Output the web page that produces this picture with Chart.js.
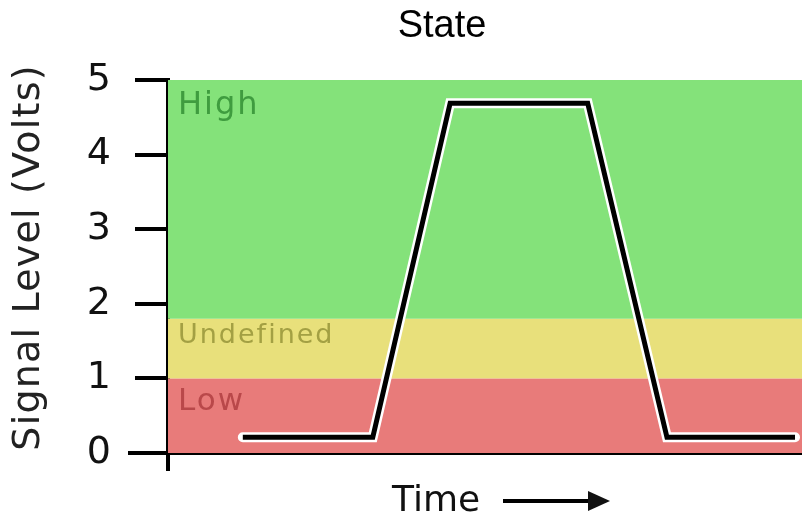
<!DOCTYPE html>
<html>
<head>
<meta charset="utf-8">
<script src="https://cdn.jsdelivr.net/npm/chart.js@4/dist/chart.umd.min.js"></script>
<style>
  html, body { margin: 0; padding: 0; background: #ffffff; }
  #wrap { width: 802px; height: 517px; }
</style>
</head>
<body>
<div id="wrap"><canvas id="c" width="802" height="517"></canvas></div>
<script>
// ---- data ----
const timePoints  = [11.8, 32.3, 44.5, 66.2, 78.7, 98.9];
const signalVolts = [0.21, 0.21, 4.69, 4.69, 0.21, 0.21];
const yTickValues = [0, 1, 2, 3, 4, 5];
const bandNames   = ['Low', 'Undefined', 'High'];
const bandFrom    = [0, 1, 1.8];
const bandTo      = [1, 1.8, 5];

// ---- styles ----
const bandFill    = ['#e87b7a', '#e8e07b', '#84e27a'];
const bandInk     = ['#b9484a', '#a3a043', '#3f9c3f'];
const bandFont    = [31, 27, 32];
const bandLabelDy = [32, 24, 34];

const points = timePoints.map((t, i) => ({ x: t, y: signalVolts[i] }));

const bandsPlugin = {
  id: 'bands',
  beforeDatasetsDraw(chart) {
    const { ctx, chartArea, scales: { y } } = chart;
    ctx.save();
    bandNames.forEach((name, i) => {
      const top = y.getPixelForValue(bandTo[i]);
      const bot = y.getPixelForValue(bandFrom[i]);
      ctx.fillStyle = bandFill[i];
      ctx.fillRect(chartArea.left, top, chartArea.right - chartArea.left, bot - top);
    });
    ctx.textAlign = 'left';
    ctx.textBaseline = 'alphabetic';
    try { ctx.letterSpacing = '2px'; } catch (e) {}
    bandNames.forEach((name, i) => {
      const top = y.getPixelForValue(bandTo[i]);
      ctx.font = bandFont[i] + 'px "DejaVu Sans"';
      ctx.fillStyle = bandInk[i];
      ctx.fillText(name, chartArea.left + 10, top + bandLabelDy[i]);
    });
    ctx.restore();
  }
};

const decoPlugin = {
  id: 'deco',
  afterLayout(chart) {
    if (chart.titleBlock) {
      chart.titleBlock.left = 82;
      chart.titleBlock.right = 802;
    }
    const ys = chart.scales.y;
    if (ys && !ys._spacedTitle) {
      const orig = ys.drawTitle.bind(ys);
      ys.drawTitle = function () {
        const ctx = this.ctx;
        ctx.save();
        try { ctx.letterSpacing = '1.2px'; } catch (e) {}
        ctx.translate(0, -9);
        orig();
        ctx.restore();
      };
      ys._spacedTitle = true;
    }
  },
  afterDraw(chart) {
    const { ctx, chartArea } = chart;
    ctx.save();
    ctx.strokeStyle = '#000';
    ctx.lineWidth = 4;
    ctx.beginPath();
    ctx.moveTo(chartArea.left, chartArea.bottom);
    ctx.lineTo(chartArea.left, chartArea.bottom + 18);
    ctx.moveTo(chartArea.left - 40, chartArea.bottom);
    ctx.lineTo(chartArea.left, chartArea.bottom);
    ctx.stroke();
    // x axis label with arrow
    ctx.fillStyle = '#111';
    ctx.font = '36px "DejaVu Sans"';
    ctx.textAlign = 'left';
    ctx.textBaseline = 'alphabetic';
    ctx.fillText('Time', 392, 511);
    ctx.beginPath();
    ctx.lineWidth = 4;
    ctx.moveTo(503, 501);
    ctx.lineTo(592, 501);
    ctx.stroke();
    ctx.beginPath();
    ctx.moveTo(588, 491);
    ctx.lineTo(610, 501);
    ctx.lineTo(588, 511);
    ctx.closePath();
    ctx.fill();
    ctx.restore();
  }
};

new Chart(document.getElementById('c'), {
  type: 'line',
  data: {
    datasets: [
      {
        data: points,
        borderColor: '#000000',
        borderWidth: 5,
        pointRadius: 0,
        tension: 0,
        borderJoinStyle: 'miter',
        borderCapStyle: 'butt',
        order: 0
      },
      {
        data: points,
        borderColor: '#ffffff',
        borderWidth: 10,
        pointRadius: 0,
        tension: 0,
        borderJoinStyle: 'miter',
        borderCapStyle: 'round',
        order: 1
      }
    ]
  },
  options: {
    responsive: false,
    animation: false,
    devicePixelRatio: 1,
    layout: { padding: 0 },
    plugins: {
      legend: { display: false },
      tooltip: { enabled: false },
      title: {
        display: true,
        text: 'State',
        color: '#000',
        font: { family: '"Liberation Sans", Arial, sans-serif', size: 38, weight: 'normal', lineHeight: 1.2 },
        padding: { top: 3.6, bottom: 30.8 }
      }
    },
    scales: {
      x: {
        type: 'linear',
        min: 0,
        max: 100,
        ticks: { display: false },
        grid: { display: false },
        border: { display: true, color: '#000', width: 4 },
        afterFit(scale) { scale.height = 64; }
      },
      y: {
        type: 'linear',
        min: 0,
        max: 5,
        afterBuildTicks(scale) { scale.ticks = yTickValues.map(v => ({ value: v })); },
        ticks: {
          color: '#111',
          padding: 24,
          font: { family: '"DejaVu Sans", Verdana, sans-serif', size: 38 }
        },
        grid: {
          drawOnChartArea: false,
          drawTicks: true,
          tickLength: 33,
          tickColor: '#000',
          lineWidth: 4
        },
        border: { display: true, color: '#000', width: 4 },
        title: {
          display: true,
          text: 'Signal Level (Volts)',
          color: '#222',
          font: { family: '"DejaVu Sans", Verdana, sans-serif', size: 38 },
          padding: { top: 6, bottom: 0 }
        },
        afterFit(scale) { scale.width = 168; }
      }
    }
  },
  plugins: [bandsPlugin, decoPlugin]
});
</script>
</body>
</html>
